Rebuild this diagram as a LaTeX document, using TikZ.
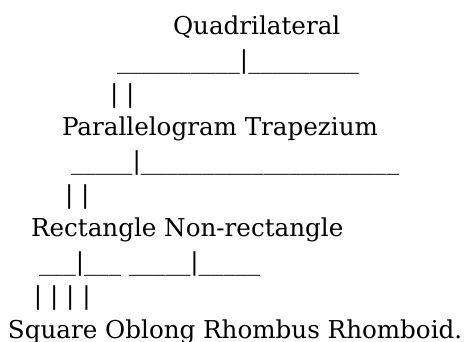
\documentclass[tikz,border=0pt]{standalone}
\usepackage{fontspec}
\setmainfont{DejaVu Serif}
\begin{document}
\begin{tikzpicture}[x=1pt,y=-1pt,
  row/.style={anchor=base west,inner sep=0pt,outer sep=0pt,
    font=\fontsize{24.6}{24.6}\selectfont}]
\useasboundingbox (0,0) rectangle (464,342);
% level 0
\node[row] (quad)  at (173,35)    {Quadrilateral};
\node[row] (bar1)  at (117,68.7)  {\_\_\_\_\_\_\_\_\_\_|\_\_\_\_\_\_\_\_\_};
\node[row] (leg1)  at (110,102.3) {| |};
% level 1
\node[row] (par)   at (62,136)    {Parallelogram Trapezium};
\node[row] (bar2)  at (71,169.7)  {\_\_\_\_\_|\_\_\_\_\_\_\_\_\_\_\_\_\_\_\_\_\_\_\_\_\_};
\node[row] (leg2)  at (65,203.3)  {| |};
% level 2
\node[row] (rect)  at (31,237)    {Rectangle Non-rectangle};
\node[row] (bar3)  at (39,270.7)  {\_\_\_|\_\_\_ \_\_\_\_\_|\_\_\_\_\_};
\node[row] (leg3)  at (34,304.3)  {| | | |};
% level 3
\node[row] (leaf)  at (8,338)     {Square Oblong Rhombus Rhomboid.};
\end{tikzpicture}
\end{document}
